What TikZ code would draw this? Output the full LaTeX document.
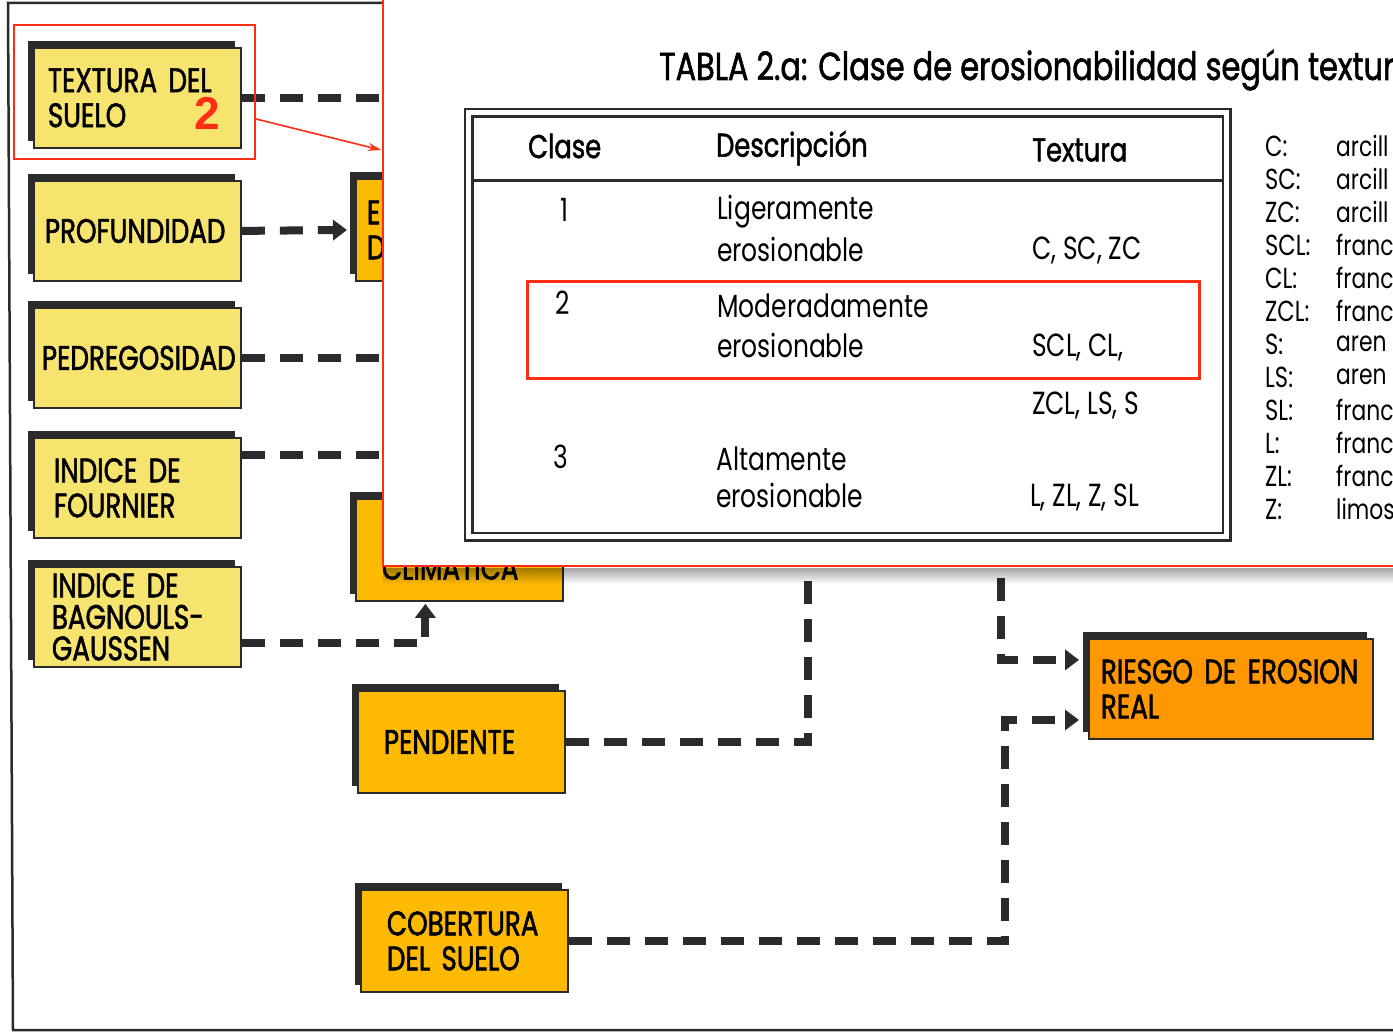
\documentclass[tikz,border=0pt]{standalone}
\usepackage{fontspec}
\setmainfont[FakeStretch=0.78]{Poppins}
\newfontfamily\headfont[FakeStretch=0.78,FakeBold=1.4]{Poppins}
\newfontfamily\boxfont[FakeStretch=0.77,FakeBold=1.6,WordSpace=0.7]{Poppins}
\newfontfamily\markfont{Liberation Sans}
\usepackage{tikz}
\usetikzlibrary{calc,positioning,shadows,arrows.meta,fadings}

\definecolor{soilyellow}{HTML}{F6E46E}
\definecolor{factororange}{HTML}{FDBA00}
\definecolor{riskorange}{HTML}{FF9800}
\definecolor{markred}{HTML}{FF2D14}
\definecolor{ink}{HTML}{2B2B2B}

\tikzfading[name=popupfade, top color=transparent!65, bottom color=transparent!100]

\tikzstyle{factorbox} = [draw=ink, line width=1.8pt, fill=soilyellow, drop shadow={shadow xshift=-6pt, shadow yshift=7pt, fill=ink, opacity=1}, anchor=north west, minimum height=100pt, text width=179pt, inner xsep=14pt, inner ysep=2pt, align=left, font=\boxfont\fontsize{34}{35}\selectfont]
\tikzstyle{sitebox} = [factorbox, fill=factororange, text width=155pt, inner xsep=26pt, minimum height=102pt]
\tikzstyle{riskbox} = [factorbox, fill=riskorange, text width=260pt, inner xsep=12pt]
\tikzstyle{link} = [draw=ink, line width=8pt, dash pattern=on 23pt off 15pt]
\tikzstyle{linkarrow} = [link, -{Triangle[length=14pt,width=20pt]}]
\tikzstyle{markframe} = [draw=markred, line width=2pt, inner sep=0pt, anchor=north west]
\tikzstyle{headtext} = [anchor=west, inner sep=0pt, font=\headfont\fontsize{33}{35}\selectfont]
\tikzstyle{celltext} = [anchor=west, inner sep=0pt, font=\fontsize{32}{34}\selectfont]
\tikzstyle{legendtext} = [anchor=west, inner sep=0pt, font=\fontsize{28}{30}\selectfont]

\begin{document}
\begin{tikzpicture}[x=1pt,y=-1pt]
\useasboundingbox (0,0) rectangle (1393,1033);
\fill[white] (0,0) rectangle (1393,1033);
\draw[ink, line width=2.5pt] (382,3) -- (8,3) -- (13,1030) -- (1393,1030);

\node[factorbox] (textura) at (33,47) {TEXTURA DEL\\SUELO};
\node[factorbox] (profundidad) at (33,180) {\hspace*{-3pt}\mbox{PROFUNDIDAD}};
\node[factorbox] (pedregosidad) at (33,307) {\hspace*{-6pt}\mbox{PEDREGOSIDAD}};
\node[factorbox] (fournier) at (33,437) {\hspace*{6pt}INDICE DE\\\hspace*{6pt}FOURNIER};
\node[factorbox, font=\boxfont\fontsize{34}{31.5}\selectfont] (bagnouls) at (33,566) {\hspace*{4pt}INDICE DE\\\hspace*{4pt}BAGNOULS-\\\hspace*{4pt}GAUSSEN};

\node[sitebox, text width=185pt, inner xsep=11pt] (erosionab) at (355,178) {E\\D};
\node[sitebox] (climatica) at (355,498) {\strut\\CLIMATICA};
\node[sitebox] (pendiente) at (357,690) {PENDIENTE};
\node[sitebox] (cobertura) at (360,889) {COBERTURA\\DEL SUELO};
\node[riskbox] (riesgo) at (1088,638) {RIESGO DE EROSION\\REAL};

\coordinate (hideA) at (430,0);
\coordinate (hideB) at (808,540);
\coordinate (hideC) at (1001,540);
\coordinate (bendC) at (1005,720);
\coordinate (climfoot) at ($(climatica.south)+(-34,2)$);

\draw[link] (textura.east) to (textura.east -| hideA);
\draw[linkarrow, shorten >=8pt] (profundidad.east) to (erosionab.west);
\draw[link] (pedregosidad.east) to (pedregosidad.east -| hideA);
\draw[link] ($(fournier.north east)+(0,18)$) to ($(fournier.north east -| hideA)+(0,18)$);
\draw[linkarrow] ($(bagnouls.east)+(0,26)$) -| (climfoot);
\draw[link] (pendiente.east) -| (hideB);
\draw[linkarrow, shorten >=9pt] (cobertura.east) -| (bendC) -- (bendC -| riesgo.west);
\draw[linkarrow, shorten >=9pt] (hideC) |- ($(riesgo.west)+(0,-29)$);

\node[draw=markred, line width=2pt, fill=white, anchor=north west, minimum width=1030pt, minimum height=580pt, inner sep=0pt] (popup) at (382,-15) {};
\fill[black, path fading=popupfade] ($(popup.south west)+(1,1)$) rectangle ++(1030,16);

\node[headtext, font=\headfont\fontsize{39}{40}\selectfont] (title) at (659,70) {TABLA 2.a: Clase de erosionabilidad según textur};

\node[draw=ink, line width=2.5pt, double=white, double distance=5pt, anchor=north west, minimum width=758pt, minimum height=424pt, inner sep=0pt] (table) at (467.5,111.5) {};
\draw[ink, line width=3pt, shorten <=5pt, shorten >=5pt] ([yshift=-68.5pt]table.north west) -- ([yshift=-68.5pt]table.north east);

\node[headtext] (hclase) at (528,146) {Clase};
\node[headtext] (hdescr) at (716,148) {Descripción};
\node[headtext] (htext) at (1032,150) {Textura};

\node[celltext] (c1) at (560,210) {1};
\node[celltext] (d1a) at (717,212) {Ligeramente};
\node[celltext] (d1b) at (717,249) {erosionable};
\node[celltext] (t1) at (1032,250) {C, SC, ZC};

\node[markframe, line width=3pt, minimum width=672pt, minimum height=97pt] (highlight) at (526,280) {};
\node[celltext] (c2) at (555,303) {2};
\node[celltext] (d2a) at (717,306) {Moderadamente};
\node[celltext] (d2b) at (717,345) {erosionable};
\node[celltext] (t2a) at (1032,347) {SCL, CL,};
\node[celltext] (t2b) at (1032,405) {ZCL, LS, S};

\node[celltext] (c3) at (553,457) {3};
\node[celltext] (d3a) at (716,459) {Altamente};
\node[celltext] (d3b) at (716,495) {erosionable};
\node[celltext] (t3) at (1030,497) {L, ZL, Z, SL};

\foreach \abbr/\word [count=\i from 0] in {C:/arcill, SC:/arcill, ZC:/arcill, SCL:/franc, CL:/franc, ZCL:/franc, S:/aren, LS:/aren, SL:/franc, L:/franc, ZL:/franc, Z:/limos} {
  \node[legendtext, font=\fontsize{29}{30}\selectfont] (abbr\i) at (1265,146+33*\i) {\abbr};
  \node[legendtext] (word\i) at (1336,146+33*\i) {\word};
}

\node[markframe, minimum width=241pt, minimum height=134pt] (mark) at (13,24) {};
\node[text=markred, inner sep=0pt, font=\markfont\bfseries\fontsize{46}{46}\selectfont] (numtwo) at (207,113) {2};
\coordinate (popuphit) at (381,150);
\draw[markred, line width=1.6pt, -{Stealth[length=13pt,width=8pt]}] ($(mark.east)+(0,27)$) to (popuphit);
\end{tikzpicture}
\end{document}
